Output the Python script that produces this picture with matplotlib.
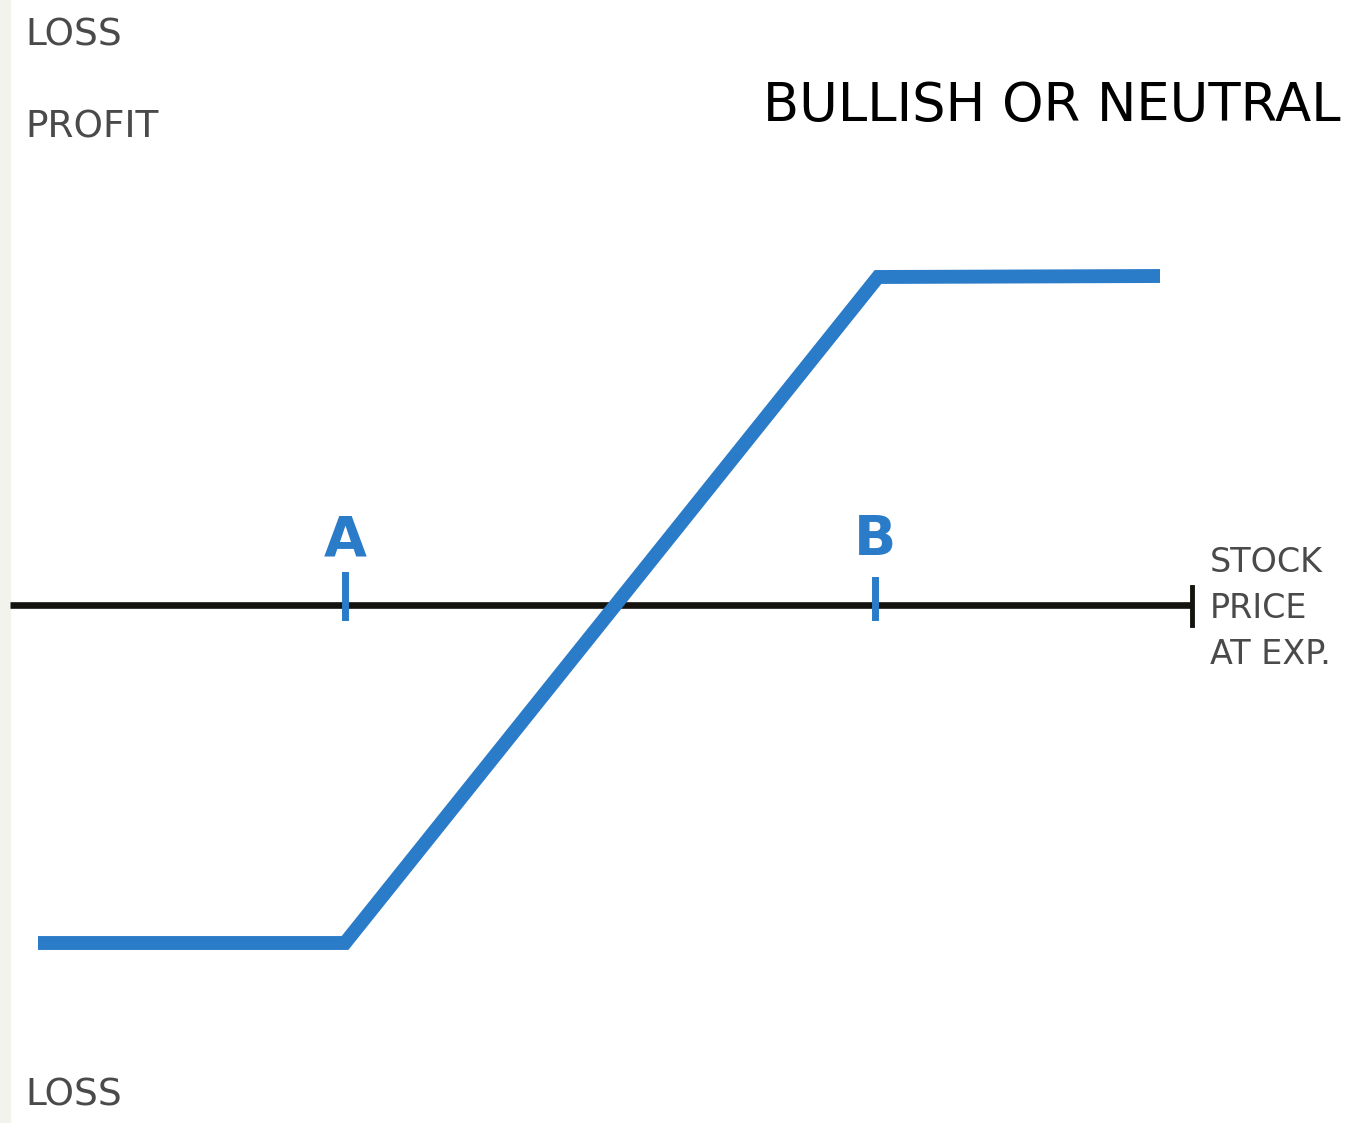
import matplotlib.pyplot as plt

# payoff diagram, x = stock price at expiration, y = profit (axis at 0)
price = [38, 345, 878, 1160]
payoff = [-338, -338, 328, 329]
strikes = [345, 875]
strike_labels = ['A', 'B']

blue = '#2a7bc8'

fig = plt.figure(figsize=(13.45, 11.23), dpi=100)
ax = fig.add_axes([0, 0, 1, 1])
ax.set_xlim(0, 1345)
ax.set_ylim(-518, 605)
ax.axis('off')

# light strip on the left edge
ax.axvspan(0, 10, color='#f3f3ee', zorder=0)

# stock price axis with end tick
ax.plot([10, 1192], [0, 0], color='#15130f', lw=4.8, solid_capstyle='butt', zorder=2)
ax.plot([1192, 1192], [-20, 18], color='#15130f', lw=3.5, zorder=2)

# payoff line
ax.plot(price, payoff, color=blue, lw=10, solid_joinstyle='miter',
        solid_capstyle='butt', zorder=3)

# strike ticks and labels
for s, lab, dy in zip(strikes, strike_labels, [30, 25]):
    ax.plot([s, s], [-12, dy], color=blue, lw=5, zorder=4)
    ax.text(s, 38, lab, color=blue, fontsize=40, fontweight='bold',
            ha='center', va='bottom', family='DejaVu Sans', zorder=4)

gray = '#4a4a4a'
left = dict(color=gray, fontsize=27, family='DejaVu Sans', ha='left', va='center')
right = dict(color=gray, fontsize=24, family='DejaVu Sans', ha='left', va='center')
ax.text(25, 605 - 36, 'LOSS', **left)
ax.text(25, 605 - 128, 'PROFIT', **left)
ax.text(25, 605 - 1096, 'LOSS', **left)
ax.text(1210, 605 - 563, 'STOCK', **right)
ax.text(1210, 605 - 608, 'PRICE', **right)
ax.text(1210, 605 - 654, 'AT EXP.', **right)

ax.text(763, 605 - 106, 'BULLISH OR NEUTRAL', color='black', fontsize=38,
        family='DejaVu Sans', fontweight='medium', ha='left', va='center')

fig.savefig('out.png', dpi=100)
